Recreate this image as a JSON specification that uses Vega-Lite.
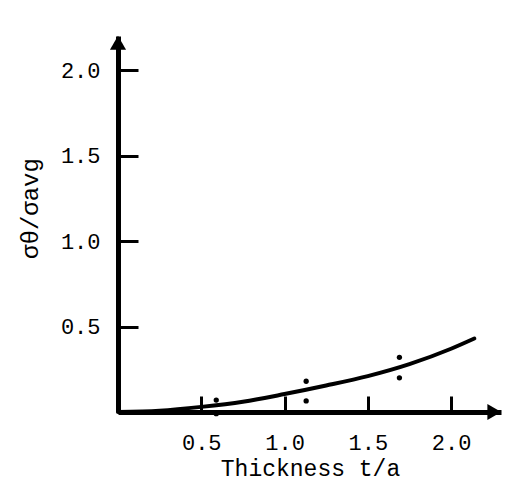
{
  "$schema": "https://vega.github.io/schema/vega-lite/v6.json",
  "width": 383,
  "height": 376,
  "autosize": {"type": "none"},
  "padding": {"left": 118, "top": 36, "right": 6, "bottom": 85},
  "background": "white",
  "config": {"view": {"stroke": null}, "font": "Liberation Mono"},
  "datasets": {
    "curve": [
      {"t": 0.0, "s": 0.0},
      {"t": 0.25, "s": 0.008},
      {"t": 0.5, "s": 0.03},
      {"t": 0.75, "s": 0.06},
      {"t": 1.0, "s": 0.105},
      {"t": 1.25, "s": 0.155},
      {"t": 1.5, "s": 0.21},
      {"t": 1.75, "s": 0.28},
      {"t": 2.0, "s": 0.37},
      {"t": 2.14, "s": 0.43}
    ],
    "points": [
      {"t": 0.59, "s": 0.07},
      {"t": 0.59, "s": -0.01},
      {"t": 1.13, "s": 0.18},
      {"t": 1.13, "s": 0.065},
      {"t": 1.69, "s": 0.32},
      {"t": 1.69, "s": 0.2}
    ]
  },
  "layer": [
    {
      "data": {"name": "curve"},
      "mark": {"type": "line", "interpolate": "monotone", "stroke": "black", "strokeWidth": 4, "strokeCap": "round"},
      "encoding": {
        "x": {
          "field": "t", "type": "quantitative",
          "scale": {"domain": [0, 2.3], "nice": false, "zero": false},
          "axis": {
            "values": [0.5, 1, 1.5, 2], "format": ".1f", "grid": false,
            "domainColor": "black", "domainWidth": 5,
            "tickColor": "black", "tickWidth": 3, "tickSize": -16,
            "labelPadding": 36, "labelFont": "Liberation Mono", "labelFontSize": 22, "labelColor": "black",
            "title": "Thickness t/a", "titleFont": "Liberation Mono", "titleFontSize": 23, "titleFontWeight": "normal",
            "titleColor": "black", "titleX": 192, "titleY": 63, "titleBaseline": "alphabetic", "titleAlign": "center"
          }
        },
        "y": {
          "field": "s", "type": "quantitative",
          "scale": {"domain": [0, 2.2], "nice": false, "zero": false},
          "axis": {
            "values": [0.5, 1, 1.5, 2], "format": ".1f", "grid": false,
            "domainColor": "black", "domainWidth": 5,
            "tickColor": "black", "tickWidth": 3, "tickSize": -20,
            "labelPadding": 38, "labelFont": "Liberation Mono", "labelFontSize": 22, "labelColor": "black",
            "title": "σθ/σavg", "titleFont": "Liberation Mono", "titleFontSize": 24, "titleFontWeight": "normal",
            "titleColor": "black", "titleX": -88, "titleY": 172, "titleAngle": -90, "titleBaseline": "middle", "titleAlign": "center"
          }
        }
      }
    },
    {
      "data": {"name": "points"},
      "mark": {"type": "point", "filled": true, "color": "black", "opacity": 1, "size": 28},
      "encoding": {
        "x": {"field": "t", "type": "quantitative"},
        "y": {"field": "s", "type": "quantitative"}
      }
    },
    {
      "data": {"values": [{}]},
      "mark": {"type": "point", "shape": "triangle-right", "filled": true, "color": "black", "opacity": 1, "size": 260},
      "encoding": {
        "x": {"datum": 2.26, "type": "quantitative"},
        "y": {"datum": 0, "type": "quantitative"}
      }
    },
    {
      "data": {"values": [{}]},
      "mark": {"type": "point", "shape": "triangle-up", "filled": true, "color": "black", "opacity": 1, "size": 260},
      "encoding": {
        "x": {"datum": 0, "type": "quantitative"},
        "y": {"datum": 2.16, "type": "quantitative"}
      }
    }
  ]
}
